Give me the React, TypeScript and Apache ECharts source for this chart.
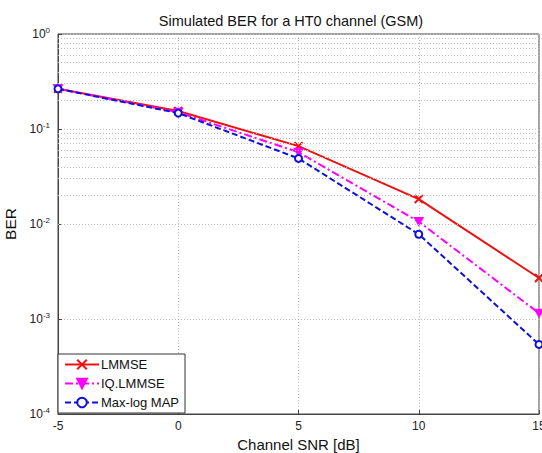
import React, { useEffect, useRef } from "react";
import * as echarts from "echarts";

const snr = [-5, 0, 5, 10, 15];
const lmmse = [0.265, 0.155, 0.066, 0.0183, 0.0027];
const iqLmmse = [0.265, 0.15, 0.057, 0.0106, 0.00115];
const maxLogMap = [0.265, 0.147, 0.049, 0.0078, 0.00054];
const seriesNames = ["LMMSE", "IQ.LMMSE", "Max-log MAP"];
const minorGrid: number[] = [];
for (let e = -4; e < 0; e++) {
  for (let m = 2; m <= 9; m++) minorGrid.push(m * Math.pow(10, e));
}

const FONT = "Liberation Sans, Arial, Helvetica, sans-serif";

export default function App() {
  const ref = useRef<HTMLDivElement>(null);
  useEffect(() => {
    if (!ref.current) return;
    const chart = echarts.init(ref.current, undefined, { renderer: "svg" });
    const pairs = (ys: number[]) => snr.map((x, i) => [x, ys[i]]);
    chart.setOption({
      animation: false,
      backgroundColor: "#fff",
      textStyle: { fontFamily: FONT },
      title: {
        text: "Simulated BER for a HT0 channel (GSM)",
        left: 286,
        textAlign: "center",
        top: 8,
        textStyle: { fontFamily: FONT, fontSize: 14.5, fontWeight: "normal", color: "#111" },
      },
      legend: {
        left: 58,
        top: 354,
        orient: "vertical",
        data: seriesNames,
        itemWidth: 34,
        itemHeight: 12,
        itemGap: 6,
        padding: [4, 6, 4, 6],
        borderColor: "#333",
        borderWidth: 1,
        borderRadius: 0,
        backgroundColor: "#fff",
        textStyle: { fontFamily: FONT, fontSize: 13, color: "#111", padding: [0, 0, 0, -3] },
      },
      grid: {
        left: 58,
        right: 3,
        top: 34,
        bottom: 39,
        show: true,
        borderColor: "#444",
        borderWidth: 1,
        outerBoundsMode: "none",
        containLabel: false,
      },
      xAxis: {
        type: "value",
        min: -5,
        max: 15,
        interval: 5,
        name: "Channel SNR [dB]",
        nameLocation: "middle",
        nameGap: 19,
        nameTextStyle: { fontFamily: FONT, fontSize: 15, color: "#111" },
        axisLine: { show: true, onZero: false, lineStyle: { color: "#444" } },
        axisTick: { show: true, inside: true, length: 4, lineStyle: { color: "#444" } },
        axisLabel: { fontFamily: FONT, fontSize: 12, color: "#222", margin: 6 },
        splitLine: { show: true, lineStyle: { color: "#bbb", type: [1, 2], width: 1 } },
      },
      yAxis: {
        type: "log",
        min: 1e-4,
        max: 1,
        logBase: 10,
        name: "BER",
        nameLocation: "middle",
        nameGap: 27,
        nameRotate: 90,
        nameTextStyle: { fontFamily: FONT, fontSize: 15.5, color: "#111" },
        axisLine: { show: true, onZero: false, lineStyle: { color: "#444" } },
        axisTick: { show: true, inside: true, length: 4, lineStyle: { color: "#444" } },
        axisLabel: {
          margin: 8,
          formatter: (v: number) => `{b|10}{s|${Math.round(Math.log10(v))}}`,
          rich: {
            b: { fontFamily: FONT, fontSize: 12, color: "#222" },
            s: { fontFamily: FONT, fontSize: 8, color: "#222", verticalAlign: "top", padding: [0, 0, 8, 0] },
          },
        },
        splitLine: { show: true, lineStyle: { color: "#bbb", type: [1, 2], width: 1 } },
      },
      series: [
        {
          name: "grid-minor",
          type: "line",
          data: [],
          silent: true,
          markLine: {
            silent: true,
            symbol: "none",
            label: { show: false },
            lineStyle: { color: "#bbb", type: [1, 2], width: 1 },
            data: minorGrid.map((v) => ({ yAxis: v })),
          },
        },
        {
          name: seriesNames[0],
          type: "line",
          data: pairs(lmmse),
          symbol: "path://M0,0L10,10M10,0L0,10",
          symbolSize: 8,
          lineStyle: { color: "#ee1111", width: 2, type: "solid" },
          itemStyle: { color: "#ee1111", borderColor: "#ee1111", borderWidth: 2 },
          z: 3,
        },
        {
          name: seriesNames[1],
          type: "line",
          data: pairs(iqLmmse),
          symbol: "path://M0,0L10,0L5,9Z",
          symbolSize: [9, 8],
          lineStyle: { color: "#ff00ff", width: 2, type: [8, 3, 2, 3] },
          itemStyle: { color: "#ff00ff", borderColor: "#ff00ff", borderWidth: 1 },
          z: 4,
        },
        {
          name: seriesNames[2],
          type: "line",
          data: pairs(maxLogMap),
          symbol: "emptyCircle",
          symbolSize: 7,
          lineStyle: { color: "#1010dd", width: 2, type: [6, 3] },
          itemStyle: { color: "#1010dd", borderColor: "#1010dd", borderWidth: 2 },
          z: 5,
        },
      ],
    });
    return () => chart.dispose();
  }, []);
  return <div ref={ref} style={{ width: 542, height: 453, position: "absolute", left: 0, top: 0 }} />;
}
